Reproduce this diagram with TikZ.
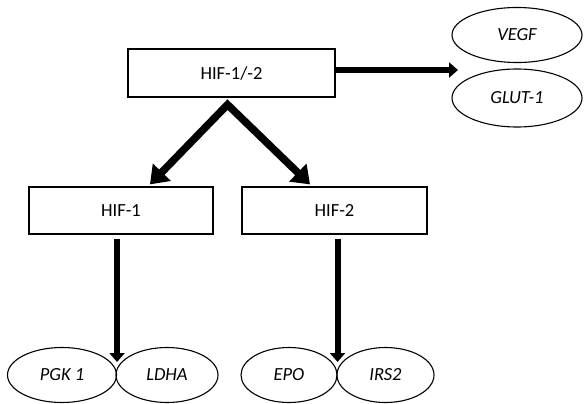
\documentclass[tikz,border=0pt]{standalone}
\usepackage{fontspec}
\setmainfont{Carlito}
\usepackage{tikz}
\usetikzlibrary{shapes.geometric,arrows.meta}

\begin{document}
\begin{tikzpicture}[x=1pt,y=-1pt,
	font=\fontsize{18.5}{21}\selectfont,
	box/.style={draw,line width=1.2pt,inner sep=0pt,minimum height=47pt},
	gene/.style={draw,ellipse,line width=1.1pt,inner sep=0pt,minimum height=55pt,font=\fontsize{18.5}{21}\selectfont\itshape},
	fat/.style={line width=6pt,-{Triangle[length=9pt,width=15pt]}},
	fork/.style={line width=7.5pt,line join=miter,{Triangle[length=17pt,width=24pt]}-{Triangle[length=17pt,width=24pt]}}]
	\useasboundingbox (0,0) rectangle (586,404);

	\node[box,minimum width=207pt,minimum height=48pt] (hif12) at (231.5,73) {HIF-1/-2};
	\node[box,minimum width=184pt] (hif1) at (121,210.5) {HIF-1};
	\node[box,minimum width=185pt] (hif2) at (334.5,210.5) {HIF-2};

	\node[gene,minimum width=130pt] (vegf) at (517,35) {VEGF};
	\node[gene,minimum width=130pt,minimum height=58pt] (glut) at (517,98) {GLUT-1};

	\node[gene,minimum width=109pt] (pgk) at (62,375) {PGK 1};
	\node[gene,minimum width=102pt] (ldha) at (167,375) {LDHA};
	\node[gene,minimum width=96pt] (epo) at (289,375) {EPO};
	\node[gene,minimum width=97pt] (irs) at (385.5,375) {IRS2};

	%\coordinate (gap) at ([yshift=3pt]hif12.east -| glut.west);
	\coordinate (gap) at (458,70);
	\coordinate (apex) at ([xshift=-4pt,yshift=-7pt]hif12.south);

	\draw[fat] ([yshift=3pt]hif12.east) -- (gap);
	\draw[fork] ([xshift=29pt,yshift=2pt]hif1.north) -- (apex) -- ([xshift=-24.5pt,yshift=2pt]hif2.north);
	\draw[fat] ([yshift=-4pt]hif1.south -| pgk.east) -- ([yshift=13pt]pgk.east);
	\draw[fat] ([yshift=-4pt]hif2.south -| epo.east) -- ([yshift=13pt]epo.east);
\end{tikzpicture}
\end{document}
